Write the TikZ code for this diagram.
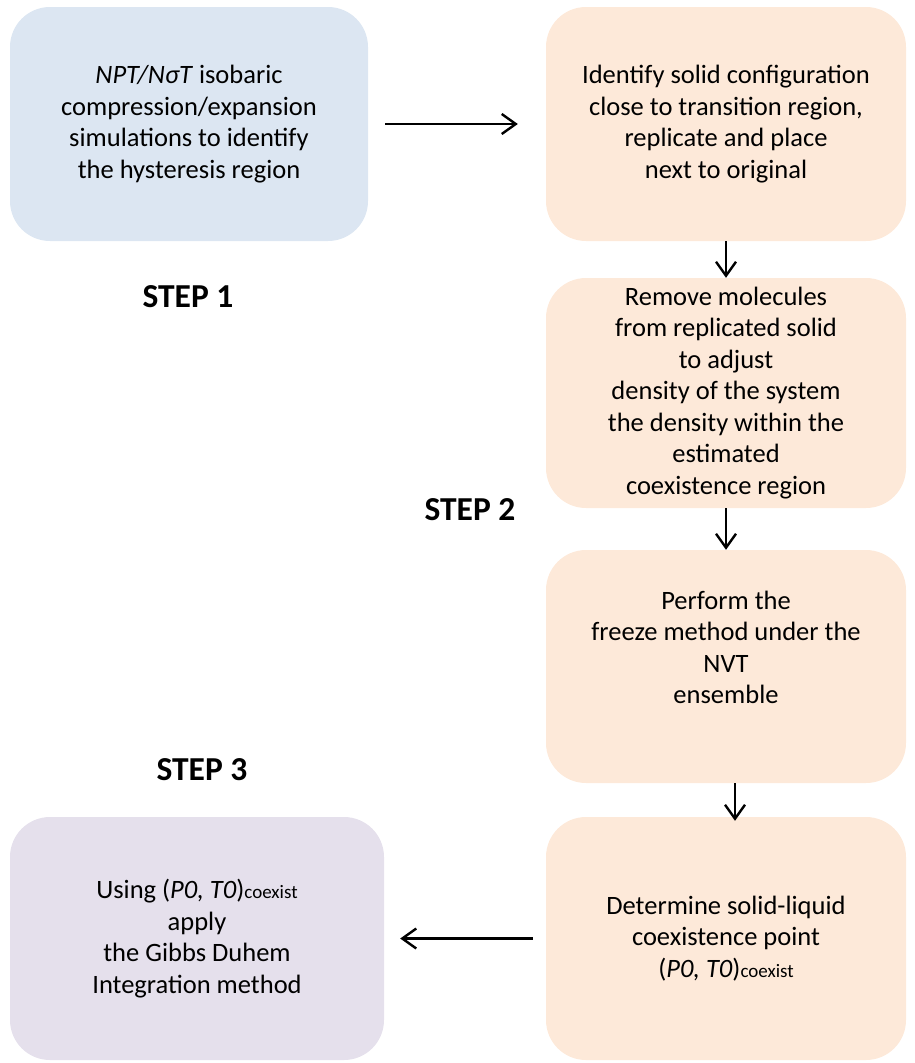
\documentclass[tikz,border=0pt]{standalone}
\usepackage{fontspec}
\setmainfont{Carlito}
\usepackage{tikz}
\usetikzlibrary{arrows.meta, positioning}

\definecolor{stepblue}{HTML}{DCE6F2}
\definecolor{steporange}{HTML}{FDE9D9}
\definecolor{steppurple}{HTML}{E5E0EC}

\newcommand{\coex}{{\fontsize{19}{20}\selectfont coexist}}

\begin{document}
\begin{tikzpicture}[
  x=1pt, y=-1pt,
  font=\fontsize{26.5}{31.5}\selectfont,
  > = {Straight Barb[length=14pt,width=20pt]},
  flow/.style = {->, line width=2.4pt},
  stepbox/.style = {rounded corners=40pt, inner sep=0pt, align=center, minimum width=360pt},
  steplabel/.style = {font=\fontsize{33.5}{36}\selectfont\bfseries}
  ]
  \useasboundingbox (0,0) rectangle (914,1063);
  \node[stepbox,fill=stepblue,minimum width=358pt,minimum height=234pt] (@sim) at (189,124)
    {\textit{NPT/NσT} isobaric\\compression/expansion\\simulations to identify\\the hysteresis region};
  \node[stepbox,fill=steporange,minimum height=234pt] (@rep) at (726,124)
    {Identify solid configuration\\close to transition region,\\replicate and place\\next to original};
  \node[stepbox,fill=steporange,minimum height=230pt] (@rem) at (726,393)
    {Remove molecules\\from replicated solid\\to adjust\\density of the system\\the density within the\\estimated\\coexistence region};
  \node[stepbox,fill=steporange,minimum height=233pt] (@nvt) at (726,666.5)
    {Perform the\\freeze method under the\\NVT\\ensemble\\[7pt]\mbox{}};
  \node[stepbox,fill=steporange,minimum height=243pt] (@pt) at (726,938.5)
    {Determine solid-liquid\\coexistence point\\(\textit{P0, T0})\coex};
  \node[stepbox,fill=steppurple,minimum width=374pt,minimum height=243pt] (@gd) at (197,938.5)
    {Using (\textit{P0, T0})\coex\\apply\\the Gibbs Duhem\\Integration method};
  % step labels
  \node[steplabel] (@s1) at (188,297) {STEP 1};
  \node[steplabel] (@s2) at (470,510) {STEP 2};
  \node[steplabel] (@s3) at (202,770) {STEP 3};
  % arrows
  \draw[flow, shorten <=17pt, shorten >=28pt] (@sim) -- (@rep);
  \draw[flow] (@rep) -- (@rem);
  \draw[flow] (@rem) -- (@nvt);
  \draw[flow, shorten >=-4pt] ([xshift=9pt]@nvt.south) -- ([xshift=9pt]@pt.north);
  \draw[flow, shorten <=13pt, shorten >=16pt] (@pt) -- (@gd);
\end{tikzpicture}
\end{document}
